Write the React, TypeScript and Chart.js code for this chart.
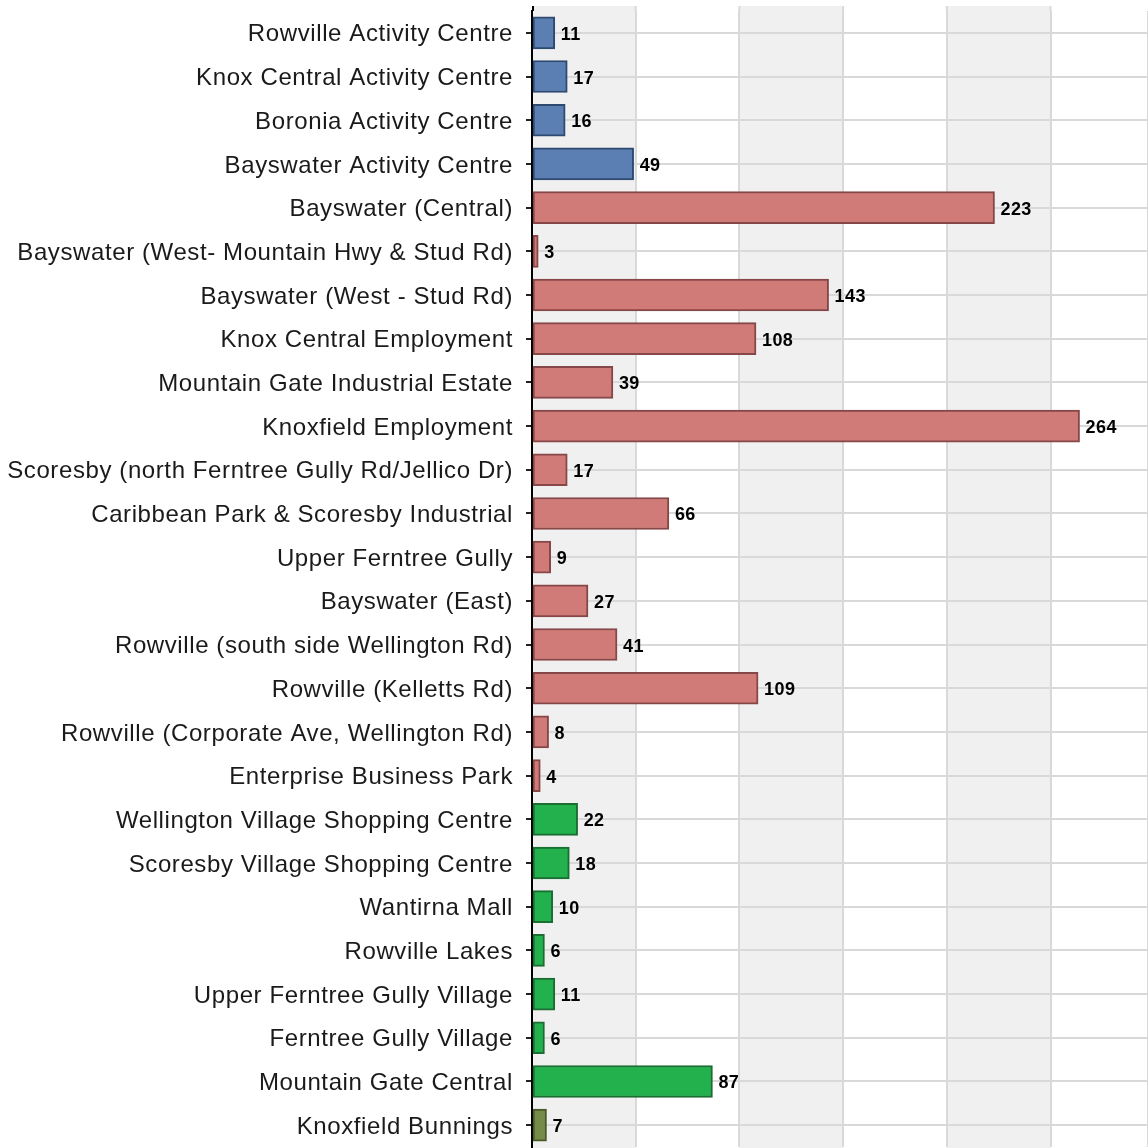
import React, { useEffect, useRef } from "react";
import { Chart, registerables } from "chart.js";

Chart.register(...registerables);

const categories = [
  "Rowville Activity Centre",
  "Knox Central Activity Centre",
  "Boronia Activity Centre",
  "Bayswater Activity Centre",
  "Bayswater (Central)",
  "Bayswater (West- Mountain Hwy & Stud Rd)",
  "Bayswater (West - Stud Rd)",
  "Knox Central Employment",
  "Mountain Gate Industrial Estate",
  "Knoxfield Employment",
  "Scoresby (north Ferntree Gully Rd/Jellico Dr)",
  "Caribbean Park & Scoresby Industrial",
  "Upper Ferntree Gully",
  "Bayswater (East)",
  "Rowville (south side Wellington Rd)",
  "Rowville (Kelletts Rd)",
  "Rowville (Corporate Ave, Wellington Rd)",
  "Enterprise Business Park",
  "Wellington Village Shopping Centre",
  "Scoresby Village Shopping Centre",
  "Wantirna Mall",
  "Rowville Lakes",
  "Upper Ferntree Gully Village",
  "Ferntree Gully Village",
  "Mountain Gate Central",
  "Knoxfield Bunnings",
];

const values = [11, 17, 16, 49, 223, 3, 143, 108, 39, 264, 17, 66, 9, 27, 41, 109, 8, 4, 22, 18, 10, 6, 11, 6, 87, 7];

const groups = [
  "activity", "activity", "activity", "activity",
  "employment", "employment", "employment", "employment", "employment", "employment",
  "employment", "employment", "employment", "employment", "employment", "employment",
  "employment", "employment",
  "retail", "retail", "retail", "retail", "retail", "retail", "retail",
  "other",
];

const fillColors: Record<string, string> = {
  activity: "#5b7fb3",
  employment: "#d17b78",
  retail: "#22b14c",
  other: "#778b48",
};
const borderColors: Record<string, string> = {
  activity: "#2e4a70",
  employment: "#874748",
  retail: "#1a6e32",
  other: "#4a5a2a",
};

const xMax = 297;
const xStep = 50;

const bandsPlugin = {
  id: "bands",
  beforeDraw(chart: any) {
    const { ctx, chartArea } = chart;
    const x = chart.scales.x;
    const top = chartArea.top - 5;
    ctx.save();
    ctx.fillStyle = "#f0f0f0";
    let i = 0;
    for (let v = 0; v < xMax; v += xStep) {
      if (i % 2 === 0) {
        const x0 = x.getPixelForValue(v);
        const x1 = x.getPixelForValue(Math.min(v + xStep, xMax));
        ctx.fillRect(x0, top, x1 - x0, chartArea.bottom - top + 2);
      }
      i++;
    }
    ctx.strokeStyle = "#d9d9d9";
    ctx.lineWidth = 2;
    for (let v = xStep; v < xMax; v += xStep) {
      const px = x.getPixelForValue(v);
      ctx.beginPath();
      ctx.moveTo(px, top);
      ctx.lineTo(px, chartArea.top);
      ctx.stroke();
    }
    ctx.strokeStyle = "#000";
    ctx.beginPath();
    ctx.moveTo(chartArea.left + 1, top);
    ctx.lineTo(chartArea.left + 1, chartArea.top);
    ctx.stroke();
    ctx.restore();
    (ctx as any).letterSpacing = "0.6px";
  },
  afterDraw(chart: any) {
    (chart.ctx as any).letterSpacing = "0px";
  },
};

const valueLabels = {
  id: "valueLabels",
  afterDatasetsDraw(chart: any) {
    const { ctx } = chart;
    const meta = chart.getDatasetMeta(0);
    ctx.save();
    (ctx as any).letterSpacing = "0.4px";
    ctx.font = "bold 18px 'Liberation Sans', Arial, sans-serif";
    ctx.fillStyle = "#000";
    ctx.textAlign = "left";
    ctx.textBaseline = "middle";
    meta.data.forEach((bar: any, i: number) => {
      ctx.fillText(String(values[i]), bar.x + 6, bar.y + 2);
    });
    ctx.restore();
  },
};

export default function App() {
  const ref = useRef<HTMLCanvasElement>(null);
  useEffect(() => {
    if (!ref.current) return;
    const chart = new Chart(ref.current, {
      type: "bar",
      data: {
        labels: categories,
        datasets: [
          {
            data: values,
            backgroundColor: groups.map((g) => fillColors[g]),
            borderColor: groups.map((g) => borderColors[g]),
            borderWidth: 2,
            borderSkipped: false,
            barThickness: 32,
          },
        ],
      },
      options: {
        indexAxis: "y",
        animation: false,
        responsive: false,
        maintainAspectRatio: false,
        layout: { padding: { top: 11, bottom: 1, left: 0, right: 0 } },
        plugins: { legend: { display: false }, tooltip: { enabled: false } },
        scales: {
          x: {
            min: 0,
            max: xMax,
            ticks: { display: false, stepSize: xStep },
            grid: { color: "#d9d9d9", lineWidth: 2, drawTicks: false },
            border: { display: false },
          },
          y: {
            afterFit(scale: any) {
              scale.width = 532;
              scale.paddingTop = 0;
              scale.paddingBottom = 0;
            },
            ticks: {
              color: "#1a1a1a",
              font: { family: "'Liberation Sans', Arial, sans-serif", size: 24 },
              padding: 13,
              labelOffset: 2,
            },
            grid: {
              offset: false,
              color: "#d9d9d9",
              lineWidth: 2,
              tickLength: 6,
              tickColor: "#222",
              tickWidth: 2,
            },
            border: { display: true, color: "#000", width: 2 },
          },
        },
      },
      plugins: [bandsPlugin, valueLabels],
    });
    return () => chart.destroy();
  }, []);
  return (
    <div style={{ position: "absolute", left: 0, top: 0, width: 1148, height: 1148 }}>
      <canvas ref={ref} width={1148} height={1148} />
    </div>
  );
}
